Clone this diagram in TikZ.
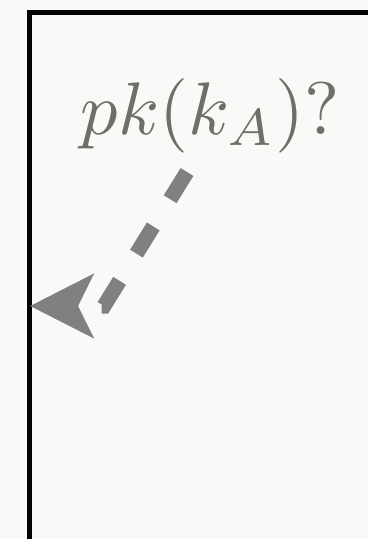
\documentclass[tikz,border=0pt]{standalone}
\usepackage{graphicx}
\usepackage{tikz}
\usetikzlibrary{arrows.meta,positioning}
\definecolor{pagebg}{HTML}{FAF9F7}
\definecolor{asktext}{HTML}{6C7167}
\definecolor{askline}{HTML}{808080}
\tikzset{
    frame/.style={draw=black,line width=5pt},
    query/.style={text=asktext,inner sep=0pt,anchor=base},
    lookup/.style={draw=askline,line width=15pt,dash pattern=on 32pt off 32pt,
        -{Stealth[length=63pt,width=63pt,inset=15pt]}},
}

\begin{document}
\begin{tikzpicture}[x=1pt,y=-1pt]
    \fill[pagebg] (0,0) rectangle (368,539);
    \useasboundingbox (0,0) rectangle (368,539);
    \draw[frame] (29.5,539) -- (29.5,12) -- (368,12);
    \node[query] (query) at (210.5,134) {\scalebox{7.45}{$pk(k_A)?$}};
    \coordinate (tail) at (187,172);
    \coordinate (knee) at (104,306);
    \coordinate (head) at (30,306);
    \draw[lookup] (tail) -- (knee) -- (head);
\end{tikzpicture}
\end{document}
